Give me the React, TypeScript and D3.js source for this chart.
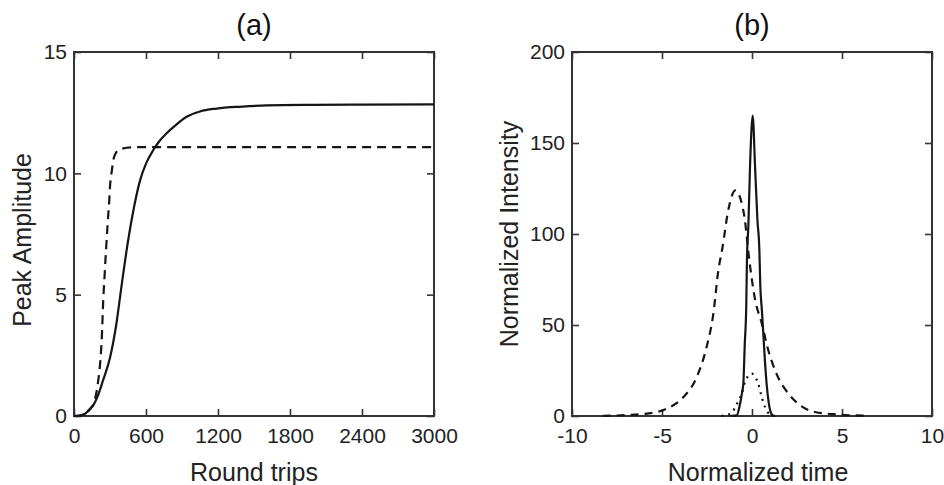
import React, { useEffect, useRef } from 'react';
import * as d3 from 'd3';

const FONT = '"Liberation Sans", Arial, Helvetica, sans-serif';

// (a) peak amplitude vs. round trips
const tripsSolid = [0, 50, 100, 133, 161, 200, 244, 300, 350, 400, 450, 500, 550, 600, 661, 700, 772, 850, 939, 1050, 1189, 1400, 1606, 2000, 2400, 3000];
const ampSolid = [0, 0.02, 0.12, 0.3, 0.45, 0.85, 1.5, 2.4, 3.7, 5.5, 7.2, 8.6, 9.7, 10.4, 10.96, 11.25, 11.65, 12.0, 12.33, 12.55, 12.67, 12.75, 12.8, 12.82, 12.83, 12.84];
const tripsDashed = [0, 60, 100, 133, 170, 203, 220, 231, 244, 255, 267, 280, 294, 300, 315, 328, 350, 380, 411, 480, 550, 3000];
const ampDashed = [0, 0.03, 0.12, 0.27, 0.6, 1.5, 2.3, 3.15, 4.8, 5.8, 6.85, 7.9, 8.9, 9.45, 10.1, 10.55, 10.85, 10.98, 11.03, 11.07, 11.08, 11.08];
const tripsTicks = [0, 600, 1200, 1800, 2400, 3000];
const ampTicks = [0, 5, 10, 15];

// (b) normalized intensity vs. normalized time
const timeSolid = [-1.2, -0.85, -0.7, -0.55, -0.48, -0.4, -0.32, -0.28, -0.2, -0.11, 0.04, 0.17, 0.3, 0.41, 0.46, 0.55, 0.63, 0.72, 0.81, 0.95, 1.09, 1.2];
const intSolid = [0, 0.3, 5, 13, 18, 40, 60, 86, 105, 137, 165, 137, 108, 91, 72, 58, 45, 30, 18, 6, 1, 0];
const timeDashed = [-8.3, -7, -5.85, -4.74, -3.81, -3.07, -2.52, -2.15, -1.87, -1.65, -1.3, -0.93, -0.6, -0.4, -0.19, 0.17, 0.54, 0.91, 1.37, 2.02, 2.67, 3.5, 4.8, 6.5];
const intDashed = [0.1, 0.5, 1.3, 4, 10.4, 21.4, 38, 56, 80, 92, 114, 124, 118, 108, 89, 64, 51, 36, 23, 12.3, 5.9, 2.2, 0.8, 0.1];
const timeDotted = [-1.7, -1.13, -0.93, -0.75, -0.57, -0.39, -0.02, 0.2, 0.35, 0.54, 0.72, 0.98, 1.3];
const intDotted = [0, 1.6, 5, 8.5, 12.3, 18.7, 23.3, 21, 17.8, 10.4, 5, 1, 0];
const timeTicks = [-10, -5, 0, 5, 10];
const intTicks = [0, 50, 100, 150, 200];

function App() {
  const svgRef = useRef(null);

  useEffect(() => {
    const svg = d3.select(svgRef.current);
    svg.selectAll('*').remove();

    const top = 52;
    const bottom = 416;
    const plain = (d) => String(d);

    function drawPanel(opts) {
      const x = d3.scaleLinear().domain(opts.xDomain).range([opts.left, opts.right]);
      const y = d3.scaleLinear().domain(opts.yDomain).range([bottom, top]);
      const g = svg.append('g');

      // inward ticks on all four sides
      const styleAxis = (sel) => {
        sel.select('.domain').remove();
        sel.selectAll('line').attr('stroke', '#333').attr('stroke-width', 1.6);
        sel.selectAll('text')
          .attr('fill', '#222')
          .style('font-family', FONT)
          .style('font-size', '21px');
      };
      g.append('g')
        .attr('transform', `translate(0,${bottom})`)
        .call(d3.axisBottom(x).tickValues(opts.xTicks).tickFormat(plain).tickSizeInner(-7).tickSizeOuter(0).tickPadding(12))
        .call(styleAxis);
      g.append('g')
        .attr('transform', `translate(0,${top})`)
        .call(d3.axisTop(x).tickValues(opts.xTicks).tickSizeInner(-7).tickSizeOuter(0).tickFormat(() => ''))
        .call(styleAxis);
      g.append('g')
        .attr('transform', `translate(${opts.left},0)`)
        .call(d3.axisLeft(y).tickValues(opts.yTicks).tickFormat(plain).tickSizeInner(-7).tickSizeOuter(0).tickPadding(7))
        .call(styleAxis);
      g.append('g')
        .attr('transform', `translate(${opts.right},0)`)
        .call(d3.axisRight(y).tickValues(opts.yTicks).tickSizeInner(-7).tickSizeOuter(0).tickFormat(() => ''))
        .call(styleAxis);

      // box
      g.append('rect')
        .attr('x', opts.left)
        .attr('y', top)
        .attr('width', opts.right - opts.left)
        .attr('height', bottom - top)
        .attr('fill', 'none')
        .attr('stroke', '#333')
        .attr('stroke-width', 2);

      const line = d3.line()
        .x((d) => x(d[0]))
        .y((d) => y(d[1]))
        .curve(d3.curveMonotoneX);

      opts.series.forEach((s) => {
        g.append('path')
          .datum(s.xs.map((v, i) => [v, s.ys[i]]))
          .attr('d', line)
          .attr('fill', 'none')
          .attr('stroke', '#151515')
          .attr('stroke-width', 2.2)
          .attr('stroke-dasharray', s.dash || null);
      });

      // title and axis labels
      g.append('text')
        .attr('x', (opts.left + opts.right) / 2)
        .attr('y', 35)
        .attr('text-anchor', 'middle')
        .style('font-family', FONT)
        .style('font-size', '29px')
        .attr('fill', '#111')
        .text(opts.title);
      g.append('text')
        .attr('x', opts.xLabelX)
        .attr('y', 481)
        .attr('text-anchor', 'middle')
        .style('font-family', FONT)
        .style('font-size', '25px')
        .attr('fill', '#222')
        .text(opts.xLabel);
      g.append('text')
        .attr('transform', `translate(${opts.yLabelX},${opts.yLabelY}) rotate(-90)`)
        .attr('text-anchor', 'middle')
        .style('font-family', FONT)
        .style('font-size', '25px')
        .attr('fill', '#222')
        .text(opts.yLabel);
    }

    drawPanel({
      left: 74,
      right: 434,
      xDomain: [0, 3000],
      yDomain: [0, 15],
      xTicks: tripsTicks,
      yTicks: ampTicks,
      title: '(a)',
      xLabel: 'Round trips',
      xLabelX: 254,
      yLabel: 'Peak Amplitude',
      yLabelX: 31,
      yLabelY: 240,
      series: [
        { xs: tripsSolid, ys: ampSolid },
        { xs: tripsDashed, ys: ampDashed, dash: '9,6' },
      ],
    });

    drawPanel({
      left: 572,
      right: 932,
      xDomain: [-10, 10],
      yDomain: [0, 200],
      xTicks: timeTicks,
      yTicks: intTicks,
      title: '(b)',
      xLabel: 'Normalized time',
      xLabelX: 758,
      yLabel: 'Normalized Intensity',
      yLabelX: 518,
      yLabelY: 234,
      series: [
        { xs: timeDashed, ys: intDashed, dash: '8,6' },
        { xs: timeDotted, ys: intDotted, dash: '2,5' },
        { xs: timeSolid, ys: intSolid },
      ],
    });
  }, []);

  return (
    <svg
      ref={svgRef}
      width={944}
      height={485}
      style={{ position: 'absolute', left: 0, top: 0, background: '#fff' }}
    />
  );
}

export default App;
